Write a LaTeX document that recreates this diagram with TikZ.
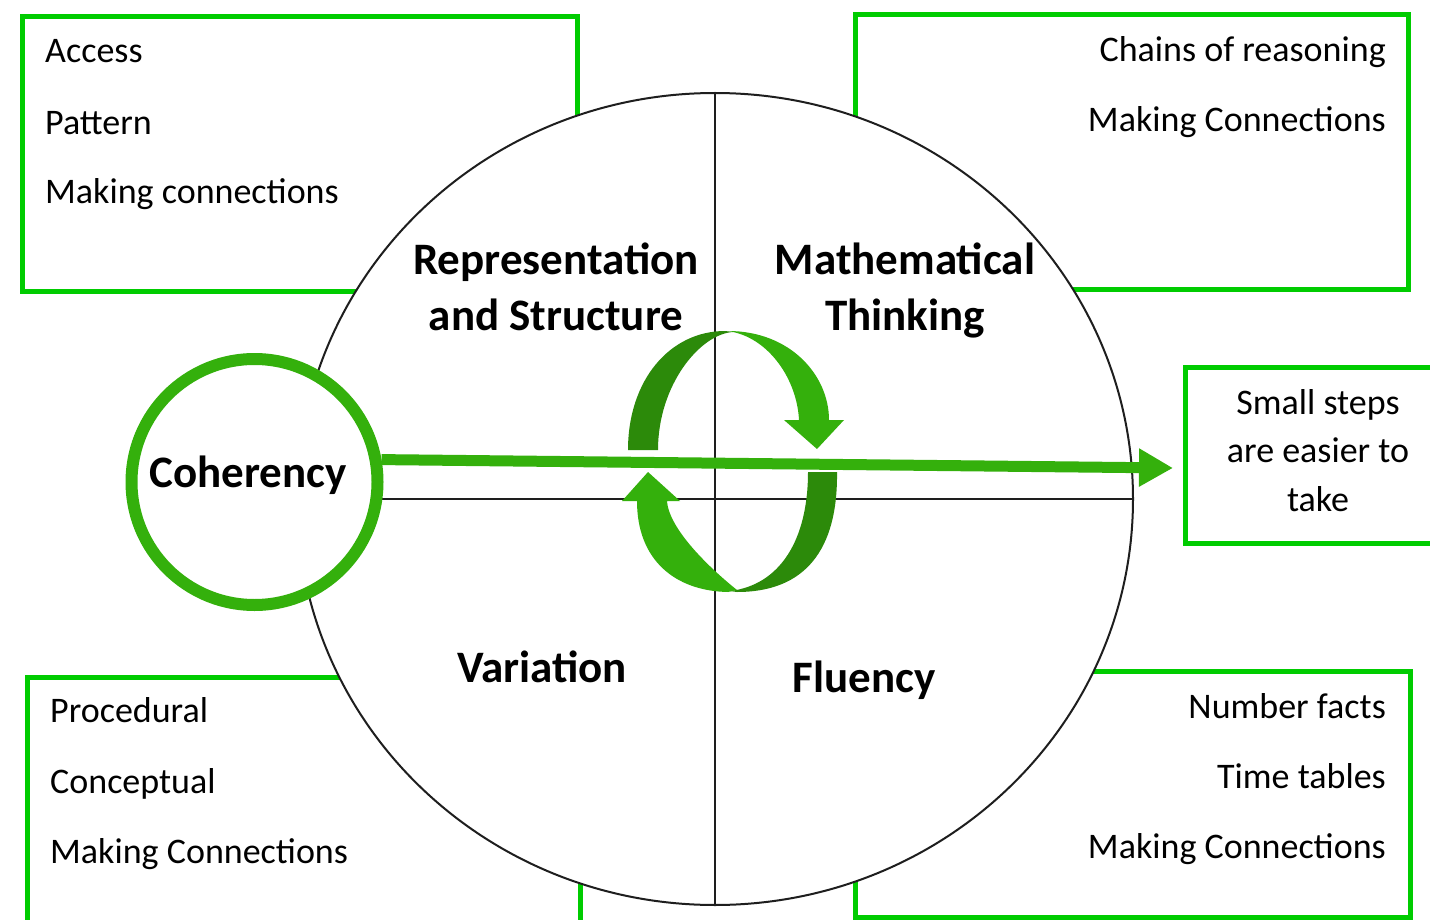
\documentclass[tikz,border=0pt]{standalone}
\usepackage{fontspec}
\setmainfont{Carlito}
\usetikzlibrary{shapes.geometric}
\usetikzlibrary{arrows.meta}
\definecolor{boxgreen}{RGB}{0,204,0}
\definecolor{ringgreen}{RGB}{52,176,12}
\definecolor{backgreen}{RGB}{44,138,10}
\definecolor{inkgray}{RGB}{30,30,30}

\begin{document}
\begin{tikzpicture}[x=1pt,y=-1pt,
        boxNode/.style = {draw=boxgreen,line width=5pt,inner sep=0pt},
        listText/.style = {font=\fontsize{36}{40}\selectfont,inner sep=0pt},
        leftText/.style = {listText,anchor=base west},
        rightText/.style = {listText,anchor=base east},
        midText/.style = {listText,anchor=base},
        headText/.style = {font=\fontsize{45}{50}\selectfont\bfseries,inner sep=0pt,anchor=base},
        wheelNode/.style = {shape=ellipse,draw=inkgray,fill=white,line width=2pt,inner sep=0pt},
        ringNode/.style = {shape=circle,draw=ringgreen,fill=white,line width=12pt,inner sep=0pt},
        divider/.style = {draw=inkgray,line width=2pt},
        frontBand/.style = {fill=ringgreen},
        backBand/.style = {fill=backgreen}
        ]
        \useasboundingbox (0,0) rectangle (1430,920);
        % boxes sit behind the wheel
        \node[boxNode,minimum width=555pt,minimum height=274pt] (repBox) at (300,154) {};
        \node[boxNode,minimum width=553pt,minimum height=274pt] (mathBox) at (1131.5,152) {};
        \node[boxNode,minimum width=260pt,minimum height=176pt] (stepBox) at (1315,455) {};
        \node[boxNode,minimum width=553pt,minimum height=290pt] (varBox) at (303.5,822) {};
        \node[boxNode,minimum width=555pt,minimum height=246pt] (fluBox) at (1132.5,794) {};

        \node[leftText] (access) at (45,63) {Access};
        \node[leftText] (pattern) at (45,135) {Pattern};
        \node[leftText] (repLink) at (45,204) {Making connections};

        \node[rightText] (chains) at (1386,62) {Chains of reasoning};
        \node[rightText] (mathLink) at (1386,132) {Making Connections};

        \node[midText] (steps1) at (1318,414) {Small steps};
        \node[midText] (steps2) at (1318,462) {are easier to};
        \node[midText] (steps3) at (1318,511) {take};

        \node[leftText] (proc) at (50,722) {Procedural};
        \node[leftText] (conc) at (50,793) {Conceptual};
        \node[leftText] (varLink) at (50,863) {Making Connections};

        \node[rightText] (facts) at (1386,718) {Number facts};
        \node[rightText] (tables) at (1386,788) {Time tables};
        \node[rightText] (fluLink) at (1386,858) {Making Connections};

        % the wheel and its quarters
        \node[wheelNode,minimum width=836pt,minimum height=812pt] (wheel) at (715,499) {};
        \draw[divider] (wheel.north) -- (wheel.south);
        \draw[divider] (wheel.west) -- (wheel.east);

        \node[ringNode,minimum size=246pt] (coh) at (254.5,482) {};
        \node[headText] (cohLabel) at (248,487) {Coherency};

        \node[headText] (rep1) at (556,274) {Representation};
        \node[headText] (rep2) at (556,330) {and Structure};
        \node[headText] (math1) at (905,274) {Mathematical};
        \node[headText] (math2) at (905,330) {Thinking};
        \node[headText] (var) at (542,682) {Variation};
        \node[headText] (flu) at (864,692) {Fluency};

        % turning ribbon in the middle
        \fill[backBand] (628,450) .. controls (628,380) and (670,331) .. (725,331) -- (733,332)
            .. controls (700,334) and (658,385) .. (658,450) -- cycle;
        \fill[frontBand] (728,331) .. controls (790,331) and (829,375) .. (829,420)
            -- (844,420) -- (817,449) -- (784,420) -- (799,420)
            .. controls (797,380) and (770,340) .. (733,332) -- cycle;
        \fill[backBand] (837,472) .. controls (838,550) and (805,592) .. (737,592) -- (730,591)
            .. controls (780,585) and (808,540) .. (808,472) -- cycle;
        \fill[frontBand] (728,592) .. controls (675,591) and (637,560) .. (637,501)
            -- (622,501) -- (648,472) -- (680,501) -- (667,501)
            .. controls (669,530) and (712,570) .. (737,590) -- cycle;

        \coordinate (stepTip) at (1173,468);
        \draw[ringgreen,line width=11pt,-{Triangle[length=34pt,width=36pt]}] (coh.10) -- (stepTip);
    \end{tikzpicture}
\end{document}
